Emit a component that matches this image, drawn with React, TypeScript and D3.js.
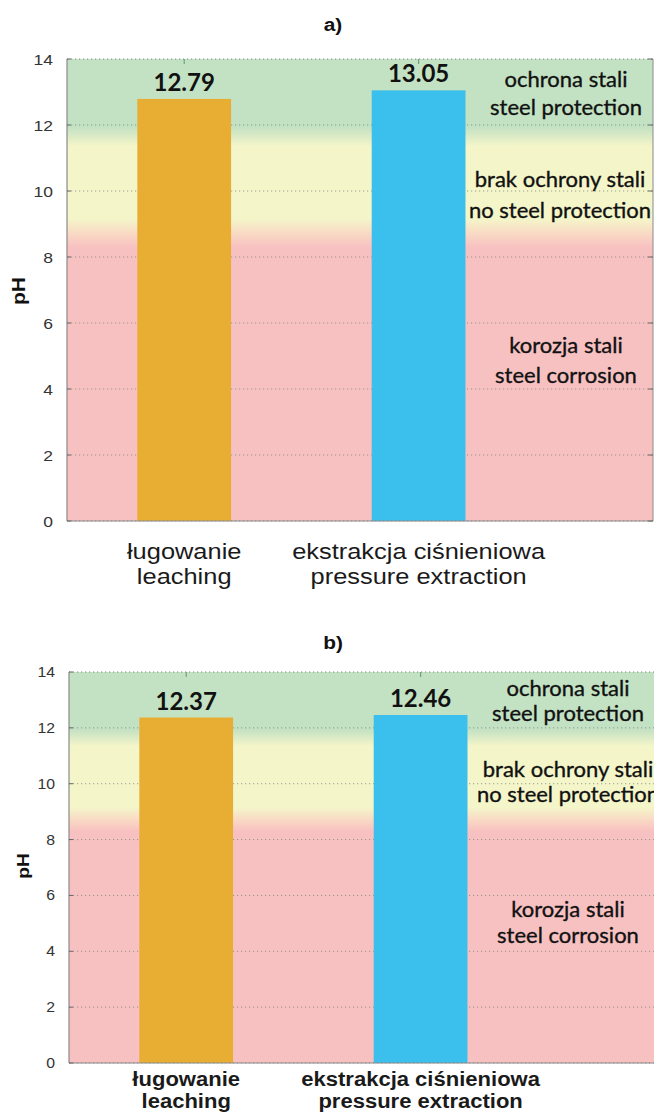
import React from "react";
import * as d3 from "d3";

const categoriesPL = ["ługowanie", "ekstrakcja ciśnieniowa"];
const categoriesEN = ["leaching", "pressure extraction"];
const valuesA = [12.79, 13.05];
const valuesB = [12.37, 12.46];
const barColors = ["#E8AD33", "#3BBFEC"];
const yTicks = [0, 2, 4, 6, 8, 10, 12, 14];
const zoneNamesPL = ["ochrona stali", "brak ochrony stali", "korozja stali"];
const zoneNamesEN = ["steel protection", "no steel protection", "steel corrosion"];
// background zone colour stops (pH, colour)
const zoneStopPH = [14, 11.95, 11.35, 9.15, 8.7, 8.3, 0];
const zoneStopColor = ["#c3e1c3", "#c3e1c3", "#f4f5c9", "#f4f5c9", "#f9d9c4", "#f8c1c1", "#f8c1c1"];

type PanelCfg = {
  id: string;
  title: string;
  titleY: number;
  top: number;
  bottom: number;
  left: number;
  width: number;
  values: number[];
  tickFont: number;
  pHx: number;
  pHy: number;
  pHfont: number;
  xFont: number;
  xWeight: number | string;
  xY1: number;
  xY2: number;
  zoneX: number[];
  zoneY: number[][];
  showRight: boolean;
};

const SX = 1.13;

function Panel({ c }: { c: PanelCfg }) {
  const y = d3.scaleLinear().domain([0, 14]).range([c.bottom, c.top]);
  const x = d3.scaleLinear().domain([0.5, 3.0]).range([c.left, c.left + c.width]);
  const right = c.left + c.width;
  const gid = "grad-" + c.id;
  return (
    <g>
      <defs>
        <linearGradient id={gid} gradientUnits="userSpaceOnUse" x1={0} x2={0} y1={y(14)} y2={y(0)}>
          {zoneStopPH.map((p, i) => (
            <stop key={i} offset={(14 - p) / 14} stopColor={zoneStopColor[i]} />
          ))}
        </linearGradient>
      </defs>
      <text
        transform={`translate(333,${c.titleY}) scale(${SX},1)`}
        textAnchor="middle"
        fontFamily="Liberation Sans, Arial, sans-serif"
        fontWeight="bold"
        fontSize={18.5}
        fill="#111"
      >
        {c.title}
      </text>
      <rect x={c.left} y={y(14)} width={c.width} height={y(0) - y(14)} fill={`url(#${gid})`} />
      {yTicks.map((t) => (
        <line
          key={"g" + t}
          x1={c.left}
          x2={right}
          y1={y(t)}
          y2={y(t)}
          stroke="#6f7f78"
          strokeOpacity={t === 14 ? 0.9 : 0.7}
          strokeWidth={1}
          strokeDasharray="1.2 2.8"
        />
      ))}
      {c.values.map((v, i) => (
        <rect
          key={"b" + i}
          x={x(i + 1 - 0.2)}
          y={y(v)}
          width={x(i + 1 + 0.2) - x(i + 1 - 0.2)}
          height={y(0) - y(v)}
          fill={barColors[i]}
        />
      ))}
      {c.values.map((v, i) => (
        <text
          key={"v" + i}
          x={x(i + 1)}
          y={y(v) - 8}
          textAnchor="middle"
          fontFamily="Lato, sans-serif"
          fontWeight="bold"
          fontSize={24}
          fill="#111"
        >
          {v.toFixed(2)}
        </text>
      ))}
      {c.values.map((_, i) => (
        <line key={"tt" + i} x1={x(i + 1)} x2={x(i + 1)} y1={y(14)} y2={y(14) + 5} stroke="#5f9a70" strokeWidth={1} />
      ))}
      <line x1={c.left} x2={c.left} y1={y(14)} y2={y(0)} stroke="#8a8a8a" strokeWidth={1.2} />
      <line x1={c.left} x2={right} y1={y(0)} y2={y(0)} stroke="#8a8a8a" strokeWidth={1.2} />
      {c.showRight && <line x1={right} x2={right} y1={y(14)} y2={y(0)} stroke="#8a8a8a" strokeWidth={1} />}
      {yTicks.map((t) => (
        <g key={"t" + t}>
          <line x1={c.left} x2={c.left + 4} y1={y(t)} y2={y(t)} stroke="#666" strokeWidth={1} />
          {c.showRight && <line x1={right - 5} x2={right} y1={y(t)} y2={y(t)} stroke="#666" strokeWidth={1} />}
          <text
            transform={`translate(${c.left - 14},${y(t) + c.tickFont * 0.36}) scale(${SX},1)`}
            textAnchor="end"
            fontFamily="Liberation Sans, Arial, sans-serif"
            fontSize={c.tickFont}
            fill="#333"
          >
            {t}
          </text>
        </g>
      ))}
      <text
        transform={`translate(${c.pHx},${c.pHy}) rotate(-90) scale(${SX},1)`}
        textAnchor="middle"
        fontFamily="Liberation Sans, Arial, sans-serif"
        fontWeight="bold"
        fontSize={c.pHfont}
        fill="#111"
      >
        pH
      </text>
      {zoneNamesPL.map((n, i) => (
        <g
          key={"z" + i}
          fontFamily="Lato, sans-serif"
          fontSize={22}
          fill="#111"
          stroke="#111"
          strokeWidth={0.35}
          textAnchor="middle"
        >
          <text x={c.zoneX[i]} y={c.zoneY[i][0]}>{n}</text>
          <text x={c.zoneX[i]} y={c.zoneY[i][1]}>{zoneNamesEN[i]}</text>
        </g>
      ))}
      {categoriesPL.map((n, i) => (
        <g
          key={"c" + i}
          fontFamily="Liberation Sans, Arial, sans-serif"
          fontSize={c.xFont}
          fontWeight={c.xWeight}
          fill="#1a1a1a"
          textAnchor="middle"
        >
          <text transform={`translate(${x(i + 1)},${c.xY1}) scale(${SX},1)`}>{n}</text>
          <text transform={`translate(${x(i + 1)},${c.xY2}) scale(${SX},1)`}>{categoriesEN[i]}</text>
        </g>
      ))}
    </g>
  );
}

const panelA: PanelCfg = {
  id: "a",
  title: "a)",
  titleY: 31,
  top: 59,
  bottom: 521,
  left: 67,
  width: 586,
  values: valuesA,
  tickFont: 15.5,
  pHx: 25,
  pHy: 291,
  pHfont: 18.5,
  xFont: 22.5,
  xWeight: "normal",
  xY1: 559,
  xY2: 584,
  zoneX: [566, 560, 566],
  zoneY: [
    [87, 115],
    [187, 218],
    [353, 383],
  ],
  showRight: true,
};

const panelB: PanelCfg = {
  id: "b",
  title: "b)",
  titleY: 649,
  top: 672,
  bottom: 1063,
  left: 69,
  width: 586,
  values: valuesB,
  tickFont: 14,
  pHx: 29,
  pHy: 866,
  pHfont: 17,
  xFont: 19.5,
  xWeight: "bold",
  xY1: 1086,
  xY2: 1108,
  zoneX: [568, 568, 568],
  zoneY: [
    [696, 721],
    [777, 802],
    [917, 943],
  ],
  showRight: false,
};

export default function App() {
  return (
    <svg
      width={654}
      height={1116}
      viewBox="0 0 654 1116"
      style={{ position: "absolute", left: 0, top: 0, display: "block", background: "#fff" }}
    >
      <rect width={654} height={1116} fill="#fff" />
      <Panel c={panelA} />
      <Panel c={panelB} />
    </svg>
  );
}
